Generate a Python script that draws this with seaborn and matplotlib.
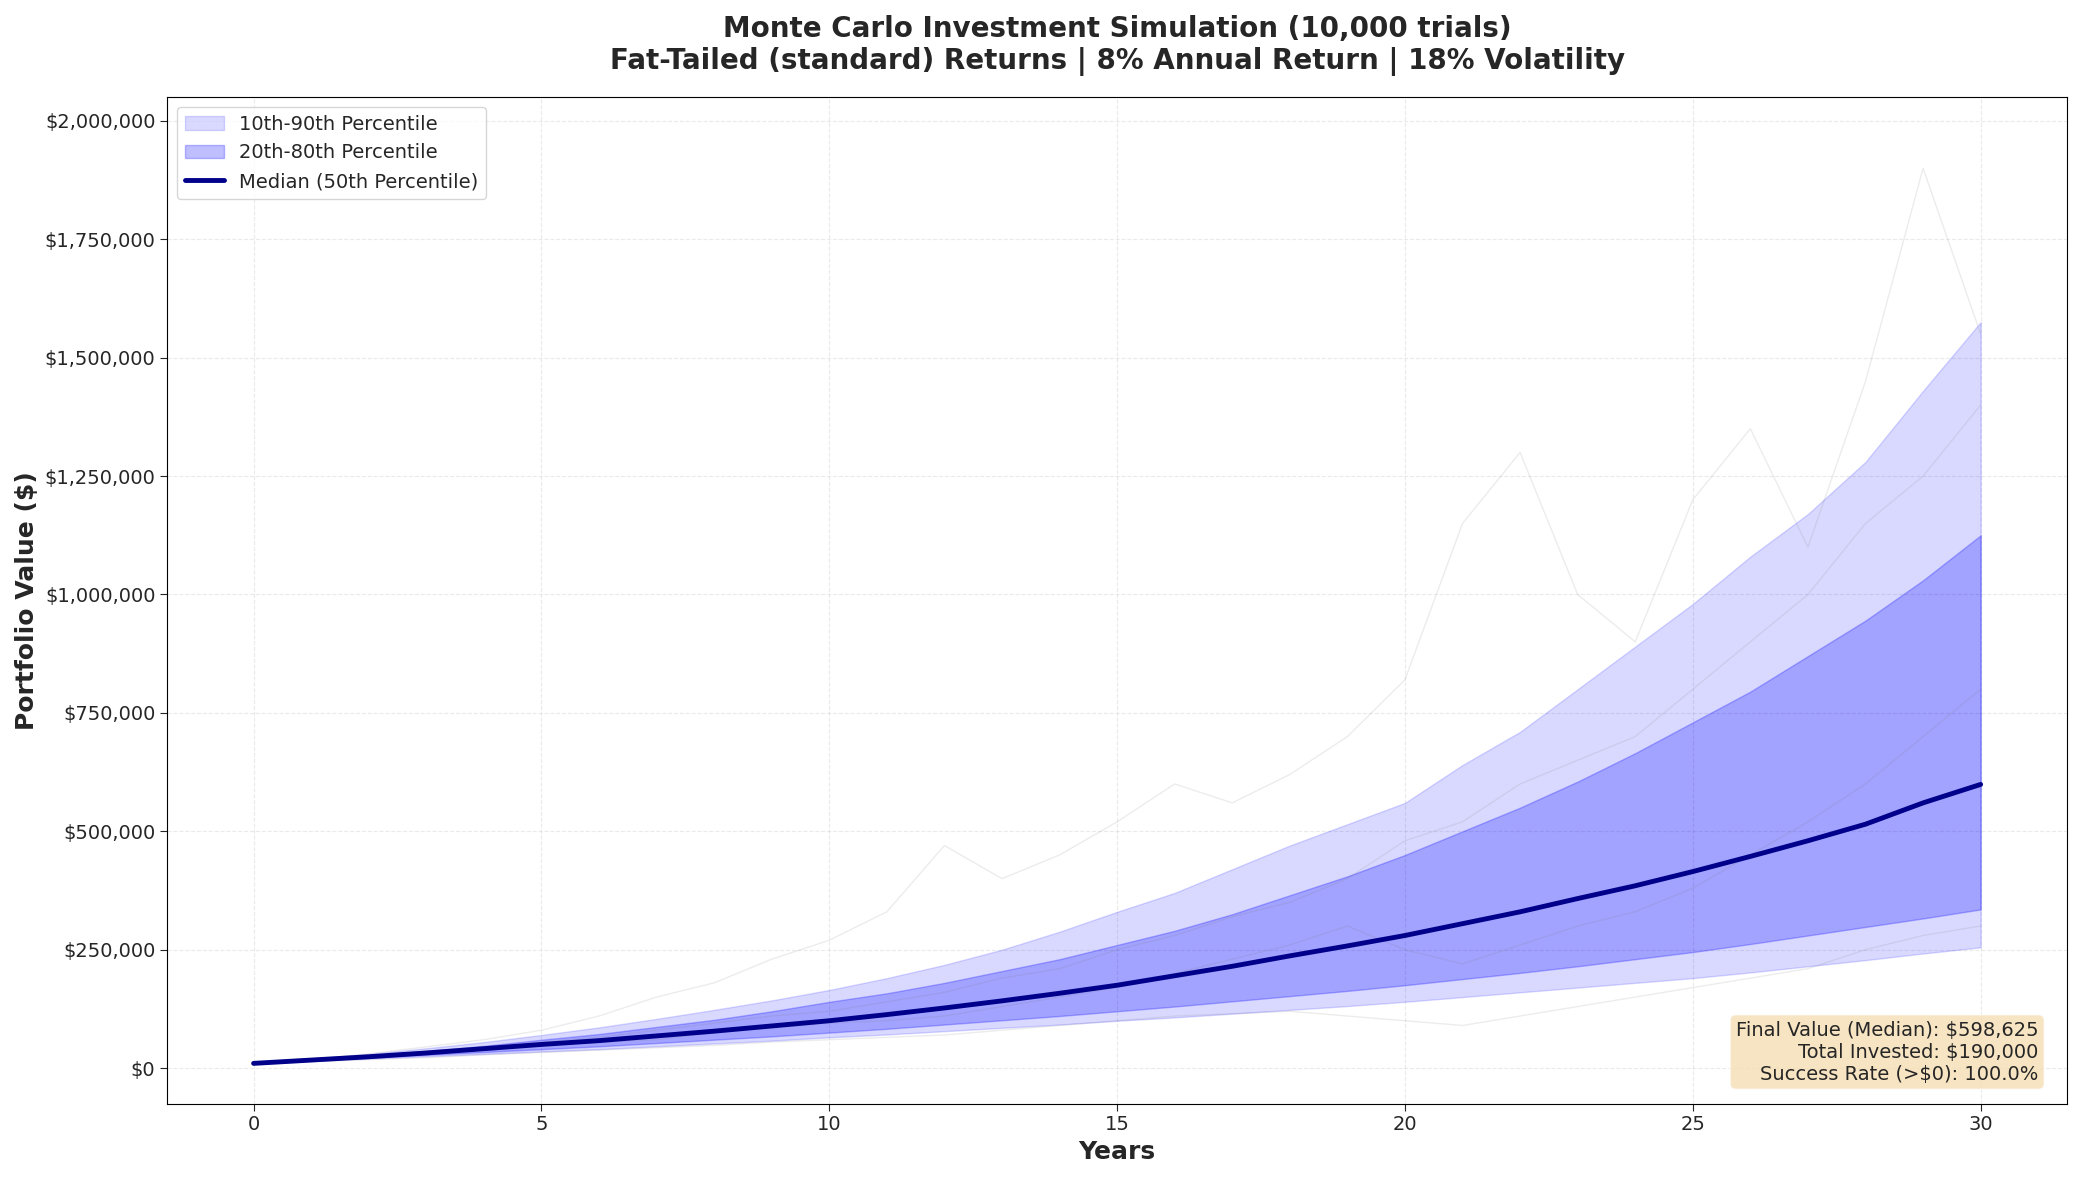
import matplotlib.pyplot as plt
import matplotlib.ticker as mticker
import seaborn as sns
import numpy as np

years = list(range(31))
# values in $1000s
p10 = [10, 15, 20, 25, 30, 35, 40, 46, 52, 58, 65, 71, 78, 85, 92, 100, 107, 115, 123, 131, 140,
       150, 160, 170, 180, 190, 202, 215, 228, 242, 255]
p20 = [10, 16, 22, 28, 34, 40, 46, 53, 60, 67, 75, 83, 92, 101, 110, 120, 130, 141, 152, 163, 175,
       188, 201, 215, 230, 245, 262, 280, 298, 316, 335]
median = [10, 17, 24, 32, 41, 50, 58, 68, 78, 89, 100, 113, 127, 142, 158, 175, 195, 215, 237, 258, 280,
          305, 330, 358, 385, 415, 447, 480, 515, 560, 599]
p80 = [10, 19, 27, 36, 47, 60, 72, 87, 102, 120, 140, 158, 180, 205, 230, 260, 290, 325, 365, 405, 450,
       500, 550, 605, 665, 730, 795, 870, 945, 1030, 1125]
p90 = [10, 20, 30, 42, 55, 70, 86, 104, 123, 143, 165, 190, 218, 250, 288, 330, 370, 420, 470, 515, 560,
       640, 710, 800, 890, 980, 1080, 1170, 1280, 1430, 1575]

# a few sample paths, hand-read (approximate)
path_a = [10, 18, 30, 45, 60, 80, 110, 150, 180, 230, 270, 330, 470, 400, 450, 520, 600, 560, 620, 700, 820,
          1150, 1300, 1000, 900, 1200, 1350, 1100, 1450, 1900, 1550]
path_b = [10, 15, 22, 30, 38, 48, 55, 60, 75, 85, 95, 100, 110, 130, 150, 170, 200, 230, 260, 300, 250,
          220, 260, 300, 330, 380, 450, 520, 600, 700, 800]
path_c = [10, 14, 18, 22, 28, 33, 38, 43, 48, 55, 60, 65, 70, 80, 90, 100, 110, 115, 120, 110, 100,
          90, 110, 130, 150, 170, 190, 210, 250, 280, 300]
path_d = [10, 17, 25, 35, 45, 55, 65, 80, 95, 110, 120, 140, 160, 190, 210, 250, 280, 320, 350, 400, 480,
          520, 600, 650, 700, 800, 900, 1000, 1150, 1250, 1400]

sns.set_style("white")
plt.rcParams['font.family'] = ['DejaVu Sans']
fig, ax = plt.subplots(figsize=(20.82, 11.79), dpi=100)

k = lambda v: np.array(v) * 1000
for p in [path_a, path_b, path_c, path_d]:
    sns.lineplot(x=years, y=k(p), ax=ax, color='gray', alpha=0.15, linewidth=1)

ax.fill_between(years, k(p10), k(p90), color='blue', alpha=0.15, label='10th-90th Percentile')
ax.fill_between(years, k(p20), k(p80), color='blue', alpha=0.25, label='20th-80th Percentile')
sns.lineplot(x=years, y=k(median), ax=ax, color='darkblue', linewidth=3.5, label='Median (50th Percentile)')

ax.set_xlim(-1.5, 31.5)
ax.set_ylim(-75000, 2050000)
ax.yaxis.set_major_locator(mticker.MultipleLocator(250000))
ax.yaxis.set_major_formatter(mticker.FuncFormatter(lambda v, _: f'${v:,.0f}'))
ax.tick_params(labelsize=14, left=True, bottom=True, length=5)
ax.grid(True, linestyle='--', alpha=0.4)
ax.set_xlabel('Years', fontsize=18, fontweight='bold')
ax.set_ylabel('Portfolio Value ($)', fontsize=18, fontweight='bold')
ax.set_title('Monte Carlo Investment Simulation (10,000 trials)\n'
             'Fat-Tailed (standard) Returns | 8% Annual Return | 18% Volatility',
             fontsize=20, fontweight='bold', pad=20)
ax.legend(loc='upper left', fontsize=14)
for s in ax.spines.values():
    s.set_color('black')

ax.text(0.985, 0.02, 'Final Value (Median): $598,625\nTotal Invested: $190,000\nSuccess Rate (>$0): 100.0%',
        transform=ax.transAxes, ha='right', va='bottom', fontsize=14,
        bbox=dict(boxstyle='round', facecolor='wheat', alpha=0.8))

plt.tight_layout()
plt.savefig('out.png', dpi=100)
